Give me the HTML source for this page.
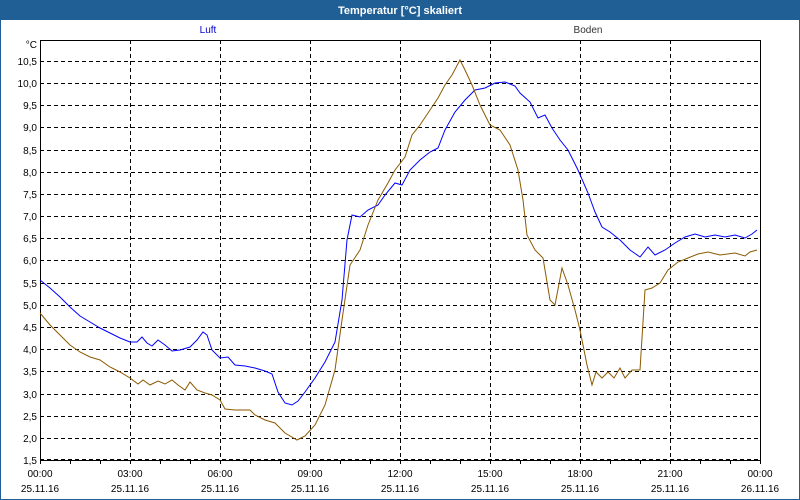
<!DOCTYPE html>
<html><head><meta charset="utf-8"><style>
html,body{margin:0;padding:0;background:#fff}
svg{display:block}
text{font-family:"Liberation Sans",sans-serif;font-size:10px;fill:#000}
</style></head><body>
<svg width="800" height="500" viewBox="0 0 800 500" xmlns="http://www.w3.org/2000/svg">
<rect x="0" y="0" width="800" height="500" fill="#fff"/>
<rect x="0.5" y="0.5" width="799" height="499" fill="none" stroke="#1f5f96" stroke-width="1"/>
<rect x="0" y="0" width="800" height="20" fill="#1f5f96"/>
<text x="400" y="14" text-anchor="middle" style="fill:#fff;font-weight:bold;font-size:11px">Temperatur [°C] skaliert</text>
<text x="208" y="33" text-anchor="middle" style="fill:#0000cc">Luft</text>
<text x="588" y="33" text-anchor="middle" style="fill:#333">Boden</text>
<g stroke="#000" stroke-width="1" stroke-dasharray="4,3" fill="none">
<path d="M40 61.5H760M40 83.5H760M40 105.5H760M40 127.5H760M40 150.5H760M40 172.5H760M40 194.5H760M40 216.5H760M40 238.5H760M40 260.5H760M40 283.5H760M40 305.5H760M40 327.5H760M40 349.5H760M40 371.5H760M40 394.5H760M40 416.5H760M40 438.5H760M40 459.5H760"/>
<path d="M130.5 40V460M220.5 40V460M310.5 40V460M400.5 40V460M490.5 40V460M580.5 40V460M670.5 40V460"/>
</g>
<path d="M40.5 40V460.5H760.5V40M40 40.5H760" fill="none" stroke="#000" stroke-width="1"/>
<g stroke="#000"><path d="M70.5 460v4M100.5 460v4M130.5 460v4M160.5 460v4M190.5 460v4M220.5 460v4M250.5 460v4M280.5 460v4M310.5 460v4M340.5 460v4M370.5 460v4M400.5 460v4M430.5 460v4M460.5 460v4M490.5 460v4M520.5 460v4M550.5 460v4M580.5 460v4M610.5 460v4M640.5 460v4M670.5 460v4M700.5 460v4M730.5 460v4M760.5 460v4M40.5 460v4"/></g>
<g text-anchor="end">
<text x="37" y="48">°C</text>
<text x="37" y="65">10,5</text><text x="37" y="87">10,0</text><text x="37" y="109">9,5</text><text x="37" y="131">9,0</text><text x="37" y="154">8,5</text><text x="37" y="176">8,0</text><text x="37" y="198">7,5</text><text x="37" y="220">7,0</text><text x="37" y="242">6,5</text><text x="37" y="264">6,0</text><text x="37" y="287">5,5</text><text x="37" y="309">5,0</text><text x="37" y="331">4,5</text><text x="37" y="353">4,0</text><text x="37" y="375">3,5</text><text x="37" y="398">3,0</text><text x="37" y="420">2,5</text><text x="37" y="442">2,0</text><text x="37" y="464">1,5</text>
</g>
<g text-anchor="middle">
<text x="40" y="477">00:00</text><text x="40" y="492">25.11.16</text>
<text x="130" y="477">03:00</text><text x="130" y="492">25.11.16</text>
<text x="220" y="477">06:00</text><text x="220" y="492">25.11.16</text>
<text x="310" y="477">09:00</text><text x="310" y="492">25.11.16</text>
<text x="400" y="477">12:00</text><text x="400" y="492">25.11.16</text>
<text x="490" y="477">15:00</text><text x="490" y="492">25.11.16</text>
<text x="580" y="477">18:00</text><text x="580" y="492">25.11.16</text>
<text x="670" y="477">21:00</text><text x="670" y="492">25.11.16</text>
<text x="760" y="477">00:00</text><text x="760" y="492">26.11.16</text>
</g>
<polyline fill="none" stroke="#0000ff" stroke-width="1" points="40,280 50,288 60,297 70,307 80,316 90,322 100,328 110,333 120,338 130,342 137,342 142,337 147,343 152,346 158,340 165,345 172,351 180,350 190,347 197,340 203,332 207,335 212,350 220,358 228,357 235,365 245,366 255,368 265,371 272,374 278,392 285,403 292,405 298,401 305,392 315,378 325,362 335,342 342,300 347,240 352,215 360,217 368,210 378,205 385,195 395,183 402,185 410,170 420,160 430,152 438,148 445,130 455,112 465,100 475,90 485,88 495,83 505,82 515,86 520,93 530,102 538,118 545,115 552,128 560,140 568,150 578,170 588,193 595,212 602,227 610,232 620,240 630,250 640,257 648,247 655,255 665,250 675,243 685,237 695,234 705,237 715,235 725,237 735,235 745,238 752,234 757,230"/>
<polyline fill="none" stroke="#8b5a00" stroke-width="1" points="40,313 50,325 60,335 70,345 80,352 90,357 100,360 110,367 120,372 130,378 138,384 143,380 150,385 158,381 165,384 172,380 178,385 185,390 190,382 197,390 205,393 212,395 220,400 225,409 235,410 250,410 255,415 265,420 275,423 285,433 297,440 305,436 315,425 325,405 335,370 342,320 350,265 360,250 368,225 378,200 388,183 395,170 405,157 412,135 420,125 430,110 438,98 445,85 452,75 460,60 465,70 472,85 480,105 490,125 500,130 510,145 518,170 523,200 527,235 535,250 543,258 550,300 555,305 562,268 568,285 575,310 580,330 587,365 592,385 596,372 602,378 608,372 614,378 620,368 625,378 632,370 640,370 645,290 652,288 660,283 668,270 678,262 688,258 698,254 708,252 720,255 735,253 745,256 750,252 757,250"/>
</svg>
</body></html>
